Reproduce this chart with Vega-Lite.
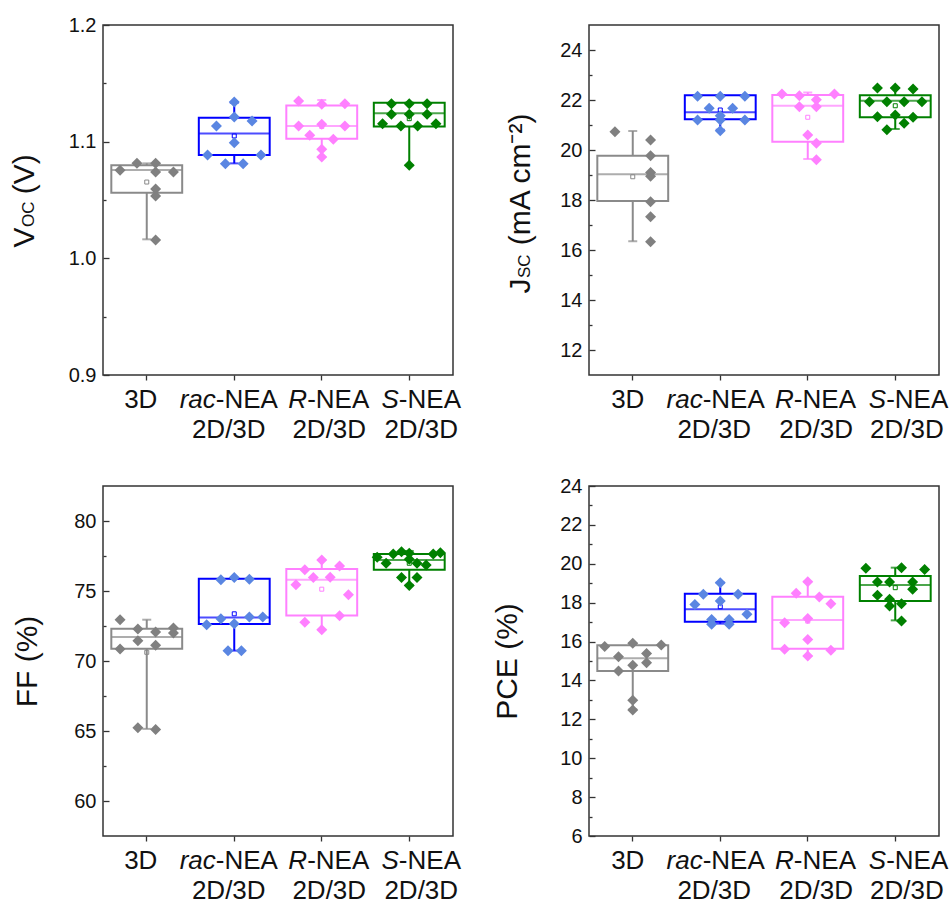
{
  "$schema": "https://vega.github.io/schema/vega-lite/v6.json",
  "background": "white",
  "padding": {"left": 8, "top": 14, "right": 0, "bottom": 5},
  "config": {
    "font": "Liberation Sans",
    "view": {"stroke": "#333333", "strokeWidth": 1.5},
    "axis": {"tickWidth": 1.3, "tickColor": "#333333", "labelColor": "#111111", "titleColor": "#111111", "grid": false, "domain": false, "titleFontWeight": "normal"}
  },
  "datasets": {
    "boxes": [
      {"panel": "voc", "group": "3D", "lower": 1.0163, "q1": 1.0563, "median": 1.0757, "q3": 1.0797, "upper": 1.0814, "mean": 1.0654},
      {"panel": "voc", "group": "rac-NEA 2D/3D", "lower": 1.0814, "q1": 1.0886, "median": 1.1071, "q3": 1.1206, "upper": 1.1334, "mean": 1.1049},
      {"panel": "voc", "group": "R-NEA 2D/3D", "lower": 1.0869, "q1": 1.1026, "median": 1.1134, "q3": 1.1311, "upper": 1.1357, "mean": 1.113},
      {"panel": "voc", "group": "S-NEA 2D/3D", "lower": 1.0797, "q1": 1.1129, "median": 1.1243, "q3": 1.1334, "upper": 1.1334, "mean": 1.1197},
      {"panel": "jsc", "group": "3D", "lower": 16.35, "q1": 17.96, "median": 19.03, "q3": 19.77, "upper": 20.76, "mean": 18.93},
      {"panel": "jsc", "group": "rac-NEA 2D/3D", "lower": 20.81, "q1": 21.23, "median": 21.51, "q3": 22.19, "upper": 22.19, "mean": 21.6},
      {"panel": "jsc", "group": "R-NEA 2D/3D", "lower": 19.64, "q1": 20.33, "median": 21.77, "q3": 22.2, "upper": 22.3, "mean": 21.31},
      {"panel": "jsc", "group": "S-NEA 2D/3D", "lower": 20.84, "q1": 21.31, "median": 21.97, "q3": 22.19, "upper": 22.48, "mean": 21.77},
      {"panel": "ff", "group": "3D", "lower": 65.15, "q1": 70.88, "median": 71.71, "q3": 72.3, "upper": 72.95, "mean": 70.62},
      {"panel": "ff", "group": "rac-NEA 2D/3D", "lower": 70.74, "q1": 72.64, "median": 73.11, "q3": 75.87, "upper": 75.87, "mean": 73.37},
      {"panel": "ff", "group": "R-NEA 2D/3D", "lower": 72.23, "q1": 73.25, "median": 75.8, "q3": 76.58, "upper": 77.22, "mean": 75.13},
      {"panel": "ff", "group": "S-NEA 2D/3D", "lower": 75.44, "q1": 76.51, "median": 77.22, "q3": 77.65, "upper": 77.86, "mean": 76.98},
      {"panel": "pce", "group": "3D", "lower": 12.51, "q1": 14.49, "median": 15.14, "q3": 15.81, "upper": 15.91, "mean": 14.77},
      {"panel": "pce", "group": "rac-NEA 2D/3D", "lower": 16.92, "q1": 17.02, "median": 17.66, "q3": 18.46, "upper": 19.03, "mean": 17.79},
      {"panel": "pce", "group": "R-NEA 2D/3D", "lower": 15.26, "q1": 15.63, "median": 17.11, "q3": 18.31, "upper": 19.08, "mean": 17.05},
      {"panel": "pce", "group": "S-NEA 2D/3D", "lower": 17.09, "q1": 18.09, "median": 18.91, "q3": 19.37, "upper": 19.8, "mean": 18.77}
    ],
    "pts": [
      {"panel": "voc", "group": "3D", "value": 1.0754, "jit": -3},
      {"panel": "voc", "group": "3D", "value": 1.0814, "jit": -1.1},
      {"panel": "voc", "group": "3D", "value": 1.0814, "jit": 1},
      {"panel": "voc", "group": "3D", "value": 1.074, "jit": 1},
      {"panel": "voc", "group": "3D", "value": 1.074, "jit": 3},
      {"panel": "voc", "group": "3D", "value": 1.0594, "jit": 1},
      {"panel": "voc", "group": "3D", "value": 1.0534, "jit": 1},
      {"panel": "voc", "group": "3D", "value": 1.0157, "jit": 1},
      {"panel": "voc", "group": "rac-NEA 2D/3D", "value": 1.134, "jit": 0},
      {"panel": "voc", "group": "rac-NEA 2D/3D", "value": 1.1211, "jit": 0},
      {"panel": "voc", "group": "rac-NEA 2D/3D", "value": 1.1177, "jit": 2},
      {"panel": "voc", "group": "rac-NEA 2D/3D", "value": 1.1134, "jit": -2},
      {"panel": "voc", "group": "rac-NEA 2D/3D", "value": 1.0991, "jit": 0},
      {"panel": "voc", "group": "rac-NEA 2D/3D", "value": 1.0886, "jit": -3},
      {"panel": "voc", "group": "rac-NEA 2D/3D", "value": 1.0886, "jit": 3},
      {"panel": "voc", "group": "rac-NEA 2D/3D", "value": 1.0811, "jit": -1},
      {"panel": "voc", "group": "rac-NEA 2D/3D", "value": 1.0811, "jit": 1},
      {"panel": "voc", "group": "R-NEA 2D/3D", "value": 1.1349, "jit": -2.6},
      {"panel": "voc", "group": "R-NEA 2D/3D", "value": 1.132, "jit": 0},
      {"panel": "voc", "group": "R-NEA 2D/3D", "value": 1.1326, "jit": 2.6},
      {"panel": "voc", "group": "R-NEA 2D/3D", "value": 1.1134, "jit": -2.6},
      {"panel": "voc", "group": "R-NEA 2D/3D", "value": 1.1149, "jit": 0},
      {"panel": "voc", "group": "R-NEA 2D/3D", "value": 1.1134, "jit": 2.6},
      {"panel": "voc", "group": "R-NEA 2D/3D", "value": 1.1054, "jit": -1.35},
      {"panel": "voc", "group": "R-NEA 2D/3D", "value": 1.102, "jit": 1.3},
      {"panel": "voc", "group": "R-NEA 2D/3D", "value": 1.0934, "jit": 0},
      {"panel": "voc", "group": "R-NEA 2D/3D", "value": 1.0869, "jit": 0},
      {"panel": "voc", "group": "S-NEA 2D/3D", "value": 1.1326, "jit": -2},
      {"panel": "voc", "group": "S-NEA 2D/3D", "value": 1.1326, "jit": 0},
      {"panel": "voc", "group": "S-NEA 2D/3D", "value": 1.1326, "jit": 2},
      {"panel": "voc", "group": "S-NEA 2D/3D", "value": 1.1234, "jit": -2},
      {"panel": "voc", "group": "S-NEA 2D/3D", "value": 1.1234, "jit": 0},
      {"panel": "voc", "group": "S-NEA 2D/3D", "value": 1.1234, "jit": 2},
      {"panel": "voc", "group": "S-NEA 2D/3D", "value": 1.1154, "jit": -3},
      {"panel": "voc", "group": "S-NEA 2D/3D", "value": 1.1134, "jit": -0.94},
      {"panel": "voc", "group": "S-NEA 2D/3D", "value": 1.1134, "jit": 0.94},
      {"panel": "voc", "group": "S-NEA 2D/3D", "value": 1.1154, "jit": 3},
      {"panel": "voc", "group": "S-NEA 2D/3D", "value": 1.0797, "jit": 0},
      {"panel": "jsc", "group": "3D", "value": 20.73, "jit": -2},
      {"panel": "jsc", "group": "3D", "value": 20.4, "jit": 2},
      {"panel": "jsc", "group": "3D", "value": 19.77, "jit": 2},
      {"panel": "jsc", "group": "3D", "value": 19.1, "jit": 2},
      {"panel": "jsc", "group": "3D", "value": 18.95, "jit": 2},
      {"panel": "jsc", "group": "3D", "value": 17.93, "jit": 2},
      {"panel": "jsc", "group": "3D", "value": 17.33, "jit": 2},
      {"panel": "jsc", "group": "3D", "value": 16.33, "jit": 2},
      {"panel": "jsc", "group": "rac-NEA 2D/3D", "value": 22.15, "jit": -2.55},
      {"panel": "jsc", "group": "rac-NEA 2D/3D", "value": 22.15, "jit": 0},
      {"panel": "jsc", "group": "rac-NEA 2D/3D", "value": 22.15, "jit": 2.77},
      {"panel": "jsc", "group": "rac-NEA 2D/3D", "value": 21.67, "jit": -1.24},
      {"panel": "jsc", "group": "rac-NEA 2D/3D", "value": 21.67, "jit": 1.39},
      {"panel": "jsc", "group": "rac-NEA 2D/3D", "value": 21.37, "jit": 0},
      {"panel": "jsc", "group": "rac-NEA 2D/3D", "value": 21.2, "jit": -2.55},
      {"panel": "jsc", "group": "rac-NEA 2D/3D", "value": 21.2, "jit": 0},
      {"panel": "jsc", "group": "rac-NEA 2D/3D", "value": 21.2, "jit": 2.77},
      {"panel": "jsc", "group": "rac-NEA 2D/3D", "value": 20.77, "jit": 0},
      {"panel": "jsc", "group": "R-NEA 2D/3D", "value": 22.24, "jit": -2.9},
      {"panel": "jsc", "group": "R-NEA 2D/3D", "value": 22.17, "jit": -0.94},
      {"panel": "jsc", "group": "R-NEA 2D/3D", "value": 22.24, "jit": 3},
      {"panel": "jsc", "group": "R-NEA 2D/3D", "value": 22.01, "jit": 0.97},
      {"panel": "jsc", "group": "R-NEA 2D/3D", "value": 21.73, "jit": -0.94},
      {"panel": "jsc", "group": "R-NEA 2D/3D", "value": 21.73, "jit": 0.97},
      {"panel": "jsc", "group": "R-NEA 2D/3D", "value": 20.6, "jit": 0},
      {"panel": "jsc", "group": "R-NEA 2D/3D", "value": 20.27, "jit": 0.97},
      {"panel": "jsc", "group": "R-NEA 2D/3D", "value": 19.61, "jit": 0.97},
      {"panel": "jsc", "group": "S-NEA 2D/3D", "value": 22.48, "jit": -2},
      {"panel": "jsc", "group": "S-NEA 2D/3D", "value": 22.48, "jit": 0},
      {"panel": "jsc", "group": "S-NEA 2D/3D", "value": 22.44, "jit": 2},
      {"panel": "jsc", "group": "S-NEA 2D/3D", "value": 21.93, "jit": -2.9},
      {"panel": "jsc", "group": "S-NEA 2D/3D", "value": 21.93, "jit": -0.94},
      {"panel": "jsc", "group": "S-NEA 2D/3D", "value": 21.93, "jit": 1},
      {"panel": "jsc", "group": "S-NEA 2D/3D", "value": 21.93, "jit": 3},
      {"panel": "jsc", "group": "S-NEA 2D/3D", "value": 21.33, "jit": -2},
      {"panel": "jsc", "group": "S-NEA 2D/3D", "value": 21.4, "jit": 0},
      {"panel": "jsc", "group": "S-NEA 2D/3D", "value": 21.31, "jit": 2},
      {"panel": "jsc", "group": "S-NEA 2D/3D", "value": 21.07, "jit": 1},
      {"panel": "jsc", "group": "S-NEA 2D/3D", "value": 20.81, "jit": -0.94},
      {"panel": "ff", "group": "3D", "value": 72.95, "jit": -3},
      {"panel": "ff", "group": "3D", "value": 72.28, "jit": -1},
      {"panel": "ff", "group": "3D", "value": 72.35, "jit": 3},
      {"panel": "ff", "group": "3D", "value": 72.07, "jit": 1},
      {"panel": "ff", "group": "3D", "value": 72.0, "jit": 3},
      {"panel": "ff", "group": "3D", "value": 71.45, "jit": -1},
      {"panel": "ff", "group": "3D", "value": 71.12, "jit": 1},
      {"panel": "ff", "group": "3D", "value": 70.86, "jit": -3},
      {"panel": "ff", "group": "3D", "value": 65.23, "jit": -1},
      {"panel": "ff", "group": "3D", "value": 65.11, "jit": 1},
      {"panel": "ff", "group": "rac-NEA 2D/3D", "value": 75.8, "jit": -1.5},
      {"panel": "ff", "group": "rac-NEA 2D/3D", "value": 75.96, "jit": 0},
      {"panel": "ff", "group": "rac-NEA 2D/3D", "value": 75.84, "jit": 1.7},
      {"panel": "ff", "group": "rac-NEA 2D/3D", "value": 72.59, "jit": -3.1},
      {"panel": "ff", "group": "rac-NEA 2D/3D", "value": 73.02, "jit": -1.5},
      {"panel": "ff", "group": "rac-NEA 2D/3D", "value": 73.14, "jit": 1.7},
      {"panel": "ff", "group": "rac-NEA 2D/3D", "value": 73.14, "jit": 3.2},
      {"panel": "ff", "group": "rac-NEA 2D/3D", "value": 72.66, "jit": 0},
      {"panel": "ff", "group": "rac-NEA 2D/3D", "value": 70.74, "jit": -0.7},
      {"panel": "ff", "group": "rac-NEA 2D/3D", "value": 70.74, "jit": 0.8},
      {"panel": "ff", "group": "R-NEA 2D/3D", "value": 77.22, "jit": 0},
      {"panel": "ff", "group": "R-NEA 2D/3D", "value": 76.51, "jit": -1.9},
      {"panel": "ff", "group": "R-NEA 2D/3D", "value": 76.79, "jit": 2},
      {"panel": "ff", "group": "R-NEA 2D/3D", "value": 75.96, "jit": -0.95},
      {"panel": "ff", "group": "R-NEA 2D/3D", "value": 75.99, "jit": 0.95},
      {"panel": "ff", "group": "R-NEA 2D/3D", "value": 75.44, "jit": -2.9},
      {"panel": "ff", "group": "R-NEA 2D/3D", "value": 74.73, "jit": 3},
      {"panel": "ff", "group": "R-NEA 2D/3D", "value": 73.23, "jit": 2},
      {"panel": "ff", "group": "R-NEA 2D/3D", "value": 72.76, "jit": -1.9},
      {"panel": "ff", "group": "R-NEA 2D/3D", "value": 72.23, "jit": 0},
      {"panel": "ff", "group": "S-NEA 2D/3D", "value": 77.41, "jit": -3.6},
      {"panel": "ff", "group": "S-NEA 2D/3D", "value": 77.65, "jit": -1.8},
      {"panel": "ff", "group": "S-NEA 2D/3D", "value": 77.81, "jit": -0.87},
      {"panel": "ff", "group": "S-NEA 2D/3D", "value": 77.7, "jit": 0},
      {"panel": "ff", "group": "S-NEA 2D/3D", "value": 77.65, "jit": 2.7},
      {"panel": "ff", "group": "S-NEA 2D/3D", "value": 77.74, "jit": 3.5},
      {"panel": "ff", "group": "S-NEA 2D/3D", "value": 76.98, "jit": -2.6},
      {"panel": "ff", "group": "S-NEA 2D/3D", "value": 77.27, "jit": 0},
      {"panel": "ff", "group": "S-NEA 2D/3D", "value": 76.98, "jit": 0.87},
      {"panel": "ff", "group": "S-NEA 2D/3D", "value": 76.86, "jit": 1.9},
      {"panel": "ff", "group": "S-NEA 2D/3D", "value": 75.96, "jit": -0.87},
      {"panel": "ff", "group": "S-NEA 2D/3D", "value": 75.96, "jit": 0.87},
      {"panel": "ff", "group": "S-NEA 2D/3D", "value": 75.39, "jit": 0},
      {"panel": "pce", "group": "3D", "value": 15.74, "jit": -3.15},
      {"panel": "pce", "group": "3D", "value": 15.91, "jit": 0},
      {"panel": "pce", "group": "3D", "value": 15.82, "jit": 3.2},
      {"panel": "pce", "group": "3D", "value": 15.22, "jit": -1.6},
      {"panel": "pce", "group": "3D", "value": 15.38, "jit": 1.55},
      {"panel": "pce", "group": "3D", "value": 14.91, "jit": 1.55},
      {"panel": "pce", "group": "3D", "value": 14.78, "jit": 0},
      {"panel": "pce", "group": "3D", "value": 14.49, "jit": -1.6},
      {"panel": "pce", "group": "3D", "value": 12.98, "jit": 0},
      {"panel": "pce", "group": "3D", "value": 12.48, "jit": 0},
      {"panel": "pce", "group": "rac-NEA 2D/3D", "value": 19.03, "jit": 0},
      {"panel": "pce", "group": "rac-NEA 2D/3D", "value": 18.43, "jit": -1.9},
      {"panel": "pce", "group": "rac-NEA 2D/3D", "value": 18.43, "jit": 2},
      {"panel": "pce", "group": "rac-NEA 2D/3D", "value": 18.09, "jit": 0},
      {"panel": "pce", "group": "rac-NEA 2D/3D", "value": 17.91, "jit": -2.85},
      {"panel": "pce", "group": "rac-NEA 2D/3D", "value": 17.4, "jit": 3},
      {"panel": "pce", "group": "rac-NEA 2D/3D", "value": 17.14, "jit": -0.97},
      {"panel": "pce", "group": "rac-NEA 2D/3D", "value": 17.14, "jit": 1},
      {"panel": "pce", "group": "rac-NEA 2D/3D", "value": 16.89, "jit": -0.97},
      {"panel": "pce", "group": "rac-NEA 2D/3D", "value": 16.89, "jit": 1},
      {"panel": "pce", "group": "R-NEA 2D/3D", "value": 19.08, "jit": 0},
      {"panel": "pce", "group": "R-NEA 2D/3D", "value": 18.48, "jit": -1.3},
      {"panel": "pce", "group": "R-NEA 2D/3D", "value": 18.29, "jit": 1.3},
      {"panel": "pce", "group": "R-NEA 2D/3D", "value": 17.95, "jit": 2.6},
      {"panel": "pce", "group": "R-NEA 2D/3D", "value": 16.97, "jit": -2.6},
      {"panel": "pce", "group": "R-NEA 2D/3D", "value": 17.18, "jit": 0},
      {"panel": "pce", "group": "R-NEA 2D/3D", "value": 16.11, "jit": 0},
      {"panel": "pce", "group": "R-NEA 2D/3D", "value": 15.6, "jit": -2.6},
      {"panel": "pce", "group": "R-NEA 2D/3D", "value": 15.55, "jit": 2.6},
      {"panel": "pce", "group": "R-NEA 2D/3D", "value": 15.26, "jit": 0},
      {"panel": "pce", "group": "S-NEA 2D/3D", "value": 19.77, "jit": -3.3},
      {"panel": "pce", "group": "S-NEA 2D/3D", "value": 19.8, "jit": 0.7},
      {"panel": "pce", "group": "S-NEA 2D/3D", "value": 19.71, "jit": 3.3},
      {"panel": "pce", "group": "S-NEA 2D/3D", "value": 19.06, "jit": -2},
      {"panel": "pce", "group": "S-NEA 2D/3D", "value": 19.06, "jit": -0.64},
      {"panel": "pce", "group": "S-NEA 2D/3D", "value": 19.06, "jit": 1.95},
      {"panel": "pce", "group": "S-NEA 2D/3D", "value": 18.69, "jit": 1.95},
      {"panel": "pce", "group": "S-NEA 2D/3D", "value": 18.38, "jit": -2},
      {"panel": "pce", "group": "S-NEA 2D/3D", "value": 18.17, "jit": -0.64},
      {"panel": "pce", "group": "S-NEA 2D/3D", "value": 17.83, "jit": -0.64},
      {"panel": "pce", "group": "S-NEA 2D/3D", "value": 17.95, "jit": 0.7},
      {"panel": "pce", "group": "S-NEA 2D/3D", "value": 17.06, "jit": 0.7}
    ]
  },
  "columns": 2,
  "spacing": {"row": 32, "column": 29},
  "concat": [
    {
      "width": 350, "height": 350,
      "layer": [
        {"data": {"name": "boxes"}, "transform": [{"filter": "datum.panel == 'voc'"}], "mark": {"type": "rule", "strokeWidth": 2},
         "encoding": {
           "x": {"field": "group", "type": "nominal", "sort": ["3D", "rac-NEA 2D/3D", "R-NEA 2D/3D", "S-NEA 2D/3D"], "scale": {"type": "band", "paddingInner": 0, "paddingOuter": 0}, "title": null,
             "axis": {"orient": "bottom", "labelExpr": "datum.value == '3D' ? '3D' : '-NEA'", "labelAngle": 0, "labelFontSize": 26, "labelBaseline": "top", "tickSize": 5, "labelPadding": 6,
               "labelAlign": {"condition": {"test": "datum.value == '3D'", "value": "center"}, "value": "left"},
               "labelOffset": {"condition": [{"test": "datum.value == '3D'", "value": -6}, {"test": "datum.value == 'rac-NEA 2D/3D'", "value": -18.5}, {"test": "datum.value == 'R-NEA 2D/3D'", "value": -14.6}], "value": -10.4}}},
           "y": {"field": "lower", "type": "quantitative", "scale": {"domain": [0.9, 1.2], "nice": false, "zero": false},
             "axis": {"values": [0.9, 1.0, 1.1, 1.2], "format": ".1f", "tickSize": -6, "labelPadding": 13, "labelFontSize": 20, "title": "V\u00a0\u00a0\u00a0\u00a0(V)", "titleFontSize": 30, "titleAlign": "left", "titleBaseline": "alphabetic", "titleAngle": 270, "titleX": -70, "titleY": 222}},
           "y2": {"field": "upper"},
           "color": {"field": "group", "type": "nominal", "scale": {"domain": ["3D", "rac-NEA 2D/3D", "R-NEA 2D/3D", "S-NEA 2D/3D"], "range": ["#8a8a8a", "#0000ff", "#ff80ff", "#008000"]}, "legend": null}}},
        {"data": {"name": "boxes"}, "transform": [{"filter": "datum.panel == 'voc'"}], "mark": {"type": "bar", "fill": "white", "strokeWidth": 2, "width": {"band": 0.81}},
         "encoding": {
           "x": {"field": "group", "type": "nominal", "sort": ["3D", "rac-NEA 2D/3D", "R-NEA 2D/3D", "S-NEA 2D/3D"], "title": null,
             "axis": {"orient": "bottom", "labelExpr": "datum.value == 'rac-NEA 2D/3D' ? 'rac' : datum.value == 'R-NEA 2D/3D' ? 'R' : datum.value == 'S-NEA 2D/3D' ? 'S' : ''", "labelAngle": 0, "labelFontSize": 26, "labelFontStyle": "italic", "labelBaseline": "top", "labelAlign": "left", "tickSize": 5, "tickOpacity": 0, "labelPadding": 6,
               "labelOffset": {"condition": [{"test": "datum.value == 'rac-NEA 2D/3D'", "value": -54.6}, {"test": "datum.value == 'R-NEA 2D/3D'", "value": -33.4}], "value": -27.7}}},
           "y": {"field": "q1", "type": "quantitative", "axis": null}, "y2": {"field": "q3"},
           "stroke": {"field": "group", "type": "nominal", "scale": {"domain": ["3D", "rac-NEA 2D/3D", "R-NEA 2D/3D", "S-NEA 2D/3D"], "range": ["#8a8a8a", "#0000ff", "#ff80ff", "#008000"]}, "legend": null}}},
        {"data": {"name": "boxes"}, "transform": [{"filter": "datum.panel == 'voc'"}], "mark": {"type": "tick", "thickness": 2, "size": 71},
         "encoding": {
           "x": {"field": "group", "type": "nominal", "sort": ["3D", "rac-NEA 2D/3D", "R-NEA 2D/3D", "S-NEA 2D/3D"], "title": null,
             "axis": {"orient": "bottom", "labelExpr": "datum.value == '3D' ? '' : '2D/3D'", "labelAngle": 0, "labelFontSize": 26, "labelBaseline": "top", "tickSize": 5, "tickOpacity": 0, "labelPadding": 36,
               "labelOffset": {"condition": [{"test": "datum.value == 'rac-NEA 2D/3D'", "value": -5.5}, {"test": "datum.value == 'R-NEA 2D/3D'", "value": 7.5}], "value": 12}}},
           "y": {"field": "median", "type": "quantitative", "axis": null}, "color": {"field": "group", "type": "nominal", "legend": null}}},
        {"data": {"name": "boxes"}, "transform": [{"filter": "datum.panel == 'voc'"}], "mark": {"type": "tick", "thickness": 2, "size": 9},
         "encoding": {"x": {"field": "group", "type": "nominal", "sort": ["3D", "rac-NEA 2D/3D", "R-NEA 2D/3D", "S-NEA 2D/3D"], "axis": null}, "y": {"field": "lower", "type": "quantitative", "axis": null}, "color": {"field": "group", "type": "nominal", "legend": null}}},
        {"data": {"name": "boxes"}, "transform": [{"filter": "datum.panel == 'voc'"}], "mark": {"type": "tick", "thickness": 2, "size": 9},
         "encoding": {"x": {"field": "group", "type": "nominal", "sort": ["3D", "rac-NEA 2D/3D", "R-NEA 2D/3D", "S-NEA 2D/3D"], "axis": null}, "y": {"field": "upper", "type": "quantitative", "axis": null}, "color": {"field": "group", "type": "nominal", "legend": null}}},
        {"data": {"name": "boxes"}, "transform": [{"filter": "datum.panel == 'voc'"}], "mark": {"type": "point", "shape": "square", "filled": false, "size": 16, "strokeWidth": 1, "opacity": 1},
         "encoding": {"x": {"field": "group", "type": "nominal", "sort": ["3D", "rac-NEA 2D/3D", "R-NEA 2D/3D", "S-NEA 2D/3D"], "axis": null}, "y": {"field": "mean", "type": "quantitative", "axis": null}, "color": {"field": "group", "type": "nominal", "legend": null}}},
        {"data": {"name": "pts"}, "transform": [{"filter": "datum.panel == 'voc'"}], "mark": {"type": "point", "shape": "diamond", "filled": true, "size": 121, "opacity": 1},
         "encoding": {"x": {"field": "group", "type": "nominal", "sort": ["3D", "rac-NEA 2D/3D", "R-NEA 2D/3D", "S-NEA 2D/3D"], "axis": null},
           "y": {"field": "value", "type": "quantitative", "axis": {"values": [0.95, 1.05, 1.15], "labels": false, "tickSize": -3, "orient": "left", "title": "OC", "titleFontSize": 17, "titleAlign": "left", "titleBaseline": "alphabetic", "titleAngle": 270, "titleX": -70, "titleY": 201.5}},
           "xOffset": {"field": "jit", "type": "quantitative", "scale": {"domain": [-3.5, 3.5], "range": [12.6, 74.9]}},
           "fill": {"field": "group", "type": "nominal", "scale": {"domain": ["3D", "rac-NEA 2D/3D", "R-NEA 2D/3D", "S-NEA 2D/3D"], "range": ["#808080", "#5a86e2", "#ff80ff", "#008000"]}, "legend": null}}}
      ],
      "resolve": {"axis": {"x": "independent", "y": "independent"}, "scale": {"xOffset": "independent"}}
    },
    {
      "width": 350, "height": 350,
      "layer": [
        {"data": {"name": "boxes"}, "transform": [{"filter": "datum.panel == 'jsc'"}], "mark": {"type": "rule", "strokeWidth": 2},
         "encoding": {
           "x": {"field": "group", "type": "nominal", "sort": ["3D", "rac-NEA 2D/3D", "R-NEA 2D/3D", "S-NEA 2D/3D"], "scale": {"type": "band", "paddingInner": 0, "paddingOuter": 0}, "title": null,
             "axis": {"orient": "bottom", "labelExpr": "datum.value == '3D' ? '3D' : '-NEA'", "labelAngle": 0, "labelFontSize": 26, "labelBaseline": "top", "tickSize": 5, "labelPadding": 6,
               "labelAlign": {"condition": {"test": "datum.value == '3D'", "value": "center"}, "value": "left"},
               "labelOffset": {"condition": [{"test": "datum.value == '3D'", "value": -5}, {"test": "datum.value == 'rac-NEA 2D/3D'", "value": -17.6}, {"test": "datum.value == 'R-NEA 2D/3D'", "value": -13.9}], "value": -9.1}}},
           "y": {"field": "lower", "type": "quantitative", "scale": {"domain": [11, 25], "nice": false, "zero": false},
             "axis": {"values": [12, 14, 16, 18, 20, 22, 24], "tickSize": -6, "labelPadding": 13, "labelFontSize": 20, "title": "J\u00a0\u00a0\u00a0\u00a0(mA cm⁻²)", "titleFontSize": 30, "titleAlign": "left", "titleBaseline": "alphabetic", "titleAngle": 270, "titleX": -60, "titleY": 268}},
           "y2": {"field": "upper"},
           "color": {"field": "group", "type": "nominal", "scale": {"domain": ["3D", "rac-NEA 2D/3D", "R-NEA 2D/3D", "S-NEA 2D/3D"], "range": ["#8a8a8a", "#0000ff", "#ff80ff", "#008000"]}, "legend": null}}},
        {"data": {"name": "boxes"}, "transform": [{"filter": "datum.panel == 'jsc'"}], "mark": {"type": "bar", "fill": "white", "strokeWidth": 2, "width": {"band": 0.81}},
         "encoding": {
           "x": {"field": "group", "type": "nominal", "sort": ["3D", "rac-NEA 2D/3D", "R-NEA 2D/3D", "S-NEA 2D/3D"], "title": null,
             "axis": {"orient": "bottom", "labelExpr": "datum.value == 'rac-NEA 2D/3D' ? 'rac' : datum.value == 'R-NEA 2D/3D' ? 'R' : datum.value == 'S-NEA 2D/3D' ? 'S' : ''", "labelAngle": 0, "labelFontSize": 26, "labelFontStyle": "italic", "labelBaseline": "top", "labelAlign": "left", "tickSize": 5, "tickOpacity": 0, "labelPadding": 6,
               "labelOffset": {"condition": [{"test": "datum.value == 'rac-NEA 2D/3D'", "value": -53.7}, {"test": "datum.value == 'R-NEA 2D/3D'", "value": -32.7}], "value": -26.4}}},
           "y": {"field": "q1", "type": "quantitative", "axis": null}, "y2": {"field": "q3"},
           "stroke": {"field": "group", "type": "nominal", "scale": {"domain": ["3D", "rac-NEA 2D/3D", "R-NEA 2D/3D", "S-NEA 2D/3D"], "range": ["#8a8a8a", "#0000ff", "#ff80ff", "#008000"]}, "legend": null}}},
        {"data": {"name": "boxes"}, "transform": [{"filter": "datum.panel == 'jsc'"}], "mark": {"type": "tick", "thickness": 2, "size": 71},
         "encoding": {
           "x": {"field": "group", "type": "nominal", "sort": ["3D", "rac-NEA 2D/3D", "R-NEA 2D/3D", "S-NEA 2D/3D"], "title": null,
             "axis": {"orient": "bottom", "labelExpr": "datum.value == '3D' ? '' : '2D/3D'", "labelAngle": 0, "labelFontSize": 26, "labelBaseline": "top", "tickSize": 5, "tickOpacity": 0, "labelPadding": 36,
               "labelOffset": {"condition": [{"test": "datum.value == 'rac-NEA 2D/3D'", "value": -6}, {"test": "datum.value == 'R-NEA 2D/3D'", "value": 8.4}], "value": 11.7}}},
           "y": {"field": "median", "type": "quantitative", "axis": null}, "color": {"field": "group", "type": "nominal", "legend": null}}},
        {"data": {"name": "boxes"}, "transform": [{"filter": "datum.panel == 'jsc'"}], "mark": {"type": "tick", "thickness": 2, "size": 9},
         "encoding": {"x": {"field": "group", "type": "nominal", "sort": ["3D", "rac-NEA 2D/3D", "R-NEA 2D/3D", "S-NEA 2D/3D"], "axis": null}, "y": {"field": "lower", "type": "quantitative", "axis": null}, "color": {"field": "group", "type": "nominal", "legend": null}}},
        {"data": {"name": "boxes"}, "transform": [{"filter": "datum.panel == 'jsc'"}], "mark": {"type": "tick", "thickness": 2, "size": 9},
         "encoding": {"x": {"field": "group", "type": "nominal", "sort": ["3D", "rac-NEA 2D/3D", "R-NEA 2D/3D", "S-NEA 2D/3D"], "axis": null}, "y": {"field": "upper", "type": "quantitative", "axis": null}, "color": {"field": "group", "type": "nominal", "legend": null}}},
        {"data": {"name": "boxes"}, "transform": [{"filter": "datum.panel == 'jsc'"}], "mark": {"type": "point", "shape": "square", "filled": false, "size": 16, "strokeWidth": 1, "opacity": 1},
         "encoding": {"x": {"field": "group", "type": "nominal", "sort": ["3D", "rac-NEA 2D/3D", "R-NEA 2D/3D", "S-NEA 2D/3D"], "axis": null}, "y": {"field": "mean", "type": "quantitative", "axis": null}, "color": {"field": "group", "type": "nominal", "legend": null}}},
        {"data": {"name": "pts"}, "transform": [{"filter": "datum.panel == 'jsc'"}], "mark": {"type": "point", "shape": "diamond", "filled": true, "size": 121, "opacity": 1},
         "encoding": {"x": {"field": "group", "type": "nominal", "sort": ["3D", "rac-NEA 2D/3D", "R-NEA 2D/3D", "S-NEA 2D/3D"], "axis": null},
           "y": {"field": "value", "type": "quantitative", "axis": {"values": [13, 15, 17, 19, 21, 23], "labels": false, "tickSize": -3, "orient": "left", "title": "SC", "titleFontSize": 17, "titleAlign": "left", "titleBaseline": "alphabetic", "titleAngle": 270, "titleX": -60, "titleY": 252.5}},
           "xOffset": {"field": "jit", "type": "quantitative", "scale": {"domain": [-3.5, 3.5], "range": [12.6, 74.9]}},
           "fill": {"field": "group", "type": "nominal", "scale": {"domain": ["3D", "rac-NEA 2D/3D", "R-NEA 2D/3D", "S-NEA 2D/3D"], "range": ["#808080", "#5a86e2", "#ff80ff", "#008000"]}, "legend": null}}}
      ],
      "resolve": {"axis": {"x": "independent", "y": "independent"}, "scale": {"xOffset": "independent"}}
    },
    {
      "width": 350, "height": 350,
      "layer": [
        {"data": {"name": "boxes"}, "transform": [{"filter": "datum.panel == 'ff'"}], "mark": {"type": "rule", "strokeWidth": 2},
         "encoding": {
           "x": {"field": "group", "type": "nominal", "sort": ["3D", "rac-NEA 2D/3D", "R-NEA 2D/3D", "S-NEA 2D/3D"], "scale": {"type": "band", "paddingInner": 0, "paddingOuter": 0}, "title": null,
             "axis": {"orient": "bottom", "labelExpr": "datum.value == '3D' ? '3D' : '-NEA'", "labelAngle": 0, "labelFontSize": 26, "labelBaseline": "top", "tickSize": 5, "labelPadding": 6,
               "labelAlign": {"condition": {"test": "datum.value == '3D'", "value": "center"}, "value": "left"},
               "labelOffset": {"condition": [{"test": "datum.value == '3D'", "value": -6}, {"test": "datum.value == 'rac-NEA 2D/3D'", "value": -18.5}, {"test": "datum.value == 'R-NEA 2D/3D'", "value": -14.6}], "value": -10.4}}},
           "y": {"field": "lower", "type": "quantitative", "scale": {"domain": [57.5, 82.5], "nice": false, "zero": false},
             "axis": {"values": [60, 65, 70, 75, 80], "tickSize": -6, "labelPadding": 13, "labelFontSize": 20, "title": "FF (%)", "titleFontSize": 30, "titleBaseline": "alphabetic", "titleAngle": 270, "titleX": -67}},
           "y2": {"field": "upper"},
           "color": {"field": "group", "type": "nominal", "scale": {"domain": ["3D", "rac-NEA 2D/3D", "R-NEA 2D/3D", "S-NEA 2D/3D"], "range": ["#8a8a8a", "#0000ff", "#ff80ff", "#008000"]}, "legend": null}}},
        {"data": {"name": "boxes"}, "transform": [{"filter": "datum.panel == 'ff'"}], "mark": {"type": "bar", "fill": "white", "strokeWidth": 2, "width": {"band": 0.81}},
         "encoding": {
           "x": {"field": "group", "type": "nominal", "sort": ["3D", "rac-NEA 2D/3D", "R-NEA 2D/3D", "S-NEA 2D/3D"], "title": null,
             "axis": {"orient": "bottom", "labelExpr": "datum.value == 'rac-NEA 2D/3D' ? 'rac' : datum.value == 'R-NEA 2D/3D' ? 'R' : datum.value == 'S-NEA 2D/3D' ? 'S' : ''", "labelAngle": 0, "labelFontSize": 26, "labelFontStyle": "italic", "labelBaseline": "top", "labelAlign": "left", "tickSize": 5, "tickOpacity": 0, "labelPadding": 6,
               "labelOffset": {"condition": [{"test": "datum.value == 'rac-NEA 2D/3D'", "value": -54.6}, {"test": "datum.value == 'R-NEA 2D/3D'", "value": -33.4}], "value": -27.7}}},
           "y": {"field": "q1", "type": "quantitative", "axis": null}, "y2": {"field": "q3"},
           "stroke": {"field": "group", "type": "nominal", "scale": {"domain": ["3D", "rac-NEA 2D/3D", "R-NEA 2D/3D", "S-NEA 2D/3D"], "range": ["#8a8a8a", "#0000ff", "#ff80ff", "#008000"]}, "legend": null}}},
        {"data": {"name": "boxes"}, "transform": [{"filter": "datum.panel == 'ff'"}], "mark": {"type": "tick", "thickness": 2, "size": 71},
         "encoding": {
           "x": {"field": "group", "type": "nominal", "sort": ["3D", "rac-NEA 2D/3D", "R-NEA 2D/3D", "S-NEA 2D/3D"], "title": null,
             "axis": {"orient": "bottom", "labelExpr": "datum.value == '3D' ? '' : '2D/3D'", "labelAngle": 0, "labelFontSize": 26, "labelBaseline": "top", "tickSize": 5, "tickOpacity": 0, "labelPadding": 36,
               "labelOffset": {"condition": [{"test": "datum.value == 'rac-NEA 2D/3D'", "value": -5.5}, {"test": "datum.value == 'R-NEA 2D/3D'", "value": 7.5}], "value": 12}}},
           "y": {"field": "median", "type": "quantitative", "axis": null}, "color": {"field": "group", "type": "nominal", "legend": null}}},
        {"data": {"name": "boxes"}, "transform": [{"filter": "datum.panel == 'ff'"}], "mark": {"type": "tick", "thickness": 2, "size": 9},
         "encoding": {"x": {"field": "group", "type": "nominal", "sort": ["3D", "rac-NEA 2D/3D", "R-NEA 2D/3D", "S-NEA 2D/3D"], "axis": null}, "y": {"field": "lower", "type": "quantitative", "axis": null}, "color": {"field": "group", "type": "nominal", "legend": null}}},
        {"data": {"name": "boxes"}, "transform": [{"filter": "datum.panel == 'ff'"}], "mark": {"type": "tick", "thickness": 2, "size": 9},
         "encoding": {"x": {"field": "group", "type": "nominal", "sort": ["3D", "rac-NEA 2D/3D", "R-NEA 2D/3D", "S-NEA 2D/3D"], "axis": null}, "y": {"field": "upper", "type": "quantitative", "axis": null}, "color": {"field": "group", "type": "nominal", "legend": null}}},
        {"data": {"name": "boxes"}, "transform": [{"filter": "datum.panel == 'ff'"}], "mark": {"type": "point", "shape": "square", "filled": false, "size": 16, "strokeWidth": 1, "opacity": 1},
         "encoding": {"x": {"field": "group", "type": "nominal", "sort": ["3D", "rac-NEA 2D/3D", "R-NEA 2D/3D", "S-NEA 2D/3D"], "axis": null}, "y": {"field": "mean", "type": "quantitative", "axis": null}, "color": {"field": "group", "type": "nominal", "legend": null}}},
        {"data": {"name": "pts"}, "transform": [{"filter": "datum.panel == 'ff'"}], "mark": {"type": "point", "shape": "diamond", "filled": true, "size": 121, "opacity": 1},
         "encoding": {"x": {"field": "group", "type": "nominal", "sort": ["3D", "rac-NEA 2D/3D", "R-NEA 2D/3D", "S-NEA 2D/3D"], "axis": null},
           "y": {"field": "value", "type": "quantitative", "axis": {"values": [62.5, 67.5, 72.5, 77.5], "labels": false, "tickSize": -3, "orient": "left", "title": null}},
           "xOffset": {"field": "jit", "type": "quantitative", "scale": {"domain": [-3.5, 3.5], "range": [12.6, 74.9]}},
           "fill": {"field": "group", "type": "nominal", "scale": {"domain": ["3D", "rac-NEA 2D/3D", "R-NEA 2D/3D", "S-NEA 2D/3D"], "range": ["#808080", "#5a86e2", "#ff80ff", "#008000"]}, "legend": null}}}
      ],
      "resolve": {"axis": {"x": "independent", "y": "independent"}, "scale": {"xOffset": "independent"}}
    },
    {
      "width": 350, "height": 350,
      "layer": [
        {"data": {"name": "boxes"}, "transform": [{"filter": "datum.panel == 'pce'"}], "mark": {"type": "rule", "strokeWidth": 2},
         "encoding": {
           "x": {"field": "group", "type": "nominal", "sort": ["3D", "rac-NEA 2D/3D", "R-NEA 2D/3D", "S-NEA 2D/3D"], "scale": {"type": "band", "paddingInner": 0, "paddingOuter": 0}, "title": null,
             "axis": {"orient": "bottom", "labelExpr": "datum.value == '3D' ? '3D' : '-NEA'", "labelAngle": 0, "labelFontSize": 26, "labelBaseline": "top", "tickSize": 5, "labelPadding": 6,
               "labelAlign": {"condition": {"test": "datum.value == '3D'", "value": "center"}, "value": "left"},
               "labelOffset": {"condition": [{"test": "datum.value == '3D'", "value": -5}, {"test": "datum.value == 'rac-NEA 2D/3D'", "value": -17.6}, {"test": "datum.value == 'R-NEA 2D/3D'", "value": -13.9}], "value": -9.1}}},
           "y": {"field": "lower", "type": "quantitative", "scale": {"domain": [6, 24], "nice": false, "zero": false},
             "axis": {"values": [6, 8, 10, 12, 14, 16, 18, 20, 22, 24], "tickSize": -6, "labelPadding": 13, "labelFontSize": 20, "title": "PCE (%)", "titleFontSize": 30, "titleBaseline": "alphabetic", "titleAngle": 270, "titleX": -73}},
           "y2": {"field": "upper"},
           "color": {"field": "group", "type": "nominal", "scale": {"domain": ["3D", "rac-NEA 2D/3D", "R-NEA 2D/3D", "S-NEA 2D/3D"], "range": ["#8a8a8a", "#0000ff", "#ff80ff", "#008000"]}, "legend": null}}},
        {"data": {"name": "boxes"}, "transform": [{"filter": "datum.panel == 'pce'"}], "mark": {"type": "bar", "fill": "white", "strokeWidth": 2, "width": {"band": 0.81}},
         "encoding": {
           "x": {"field": "group", "type": "nominal", "sort": ["3D", "rac-NEA 2D/3D", "R-NEA 2D/3D", "S-NEA 2D/3D"], "title": null,
             "axis": {"orient": "bottom", "labelExpr": "datum.value == 'rac-NEA 2D/3D' ? 'rac' : datum.value == 'R-NEA 2D/3D' ? 'R' : datum.value == 'S-NEA 2D/3D' ? 'S' : ''", "labelAngle": 0, "labelFontSize": 26, "labelFontStyle": "italic", "labelBaseline": "top", "labelAlign": "left", "tickSize": 5, "tickOpacity": 0, "labelPadding": 6,
               "labelOffset": {"condition": [{"test": "datum.value == 'rac-NEA 2D/3D'", "value": -53.7}, {"test": "datum.value == 'R-NEA 2D/3D'", "value": -32.7}], "value": -26.4}}},
           "y": {"field": "q1", "type": "quantitative", "axis": null}, "y2": {"field": "q3"},
           "stroke": {"field": "group", "type": "nominal", "scale": {"domain": ["3D", "rac-NEA 2D/3D", "R-NEA 2D/3D", "S-NEA 2D/3D"], "range": ["#8a8a8a", "#0000ff", "#ff80ff", "#008000"]}, "legend": null}}},
        {"data": {"name": "boxes"}, "transform": [{"filter": "datum.panel == 'pce'"}], "mark": {"type": "tick", "thickness": 2, "size": 71},
         "encoding": {
           "x": {"field": "group", "type": "nominal", "sort": ["3D", "rac-NEA 2D/3D", "R-NEA 2D/3D", "S-NEA 2D/3D"], "title": null,
             "axis": {"orient": "bottom", "labelExpr": "datum.value == '3D' ? '' : '2D/3D'", "labelAngle": 0, "labelFontSize": 26, "labelBaseline": "top", "tickSize": 5, "tickOpacity": 0, "labelPadding": 36,
               "labelOffset": {"condition": [{"test": "datum.value == 'rac-NEA 2D/3D'", "value": -6}, {"test": "datum.value == 'R-NEA 2D/3D'", "value": 8.4}], "value": 11.7}}},
           "y": {"field": "median", "type": "quantitative", "axis": null}, "color": {"field": "group", "type": "nominal", "legend": null}}},
        {"data": {"name": "boxes"}, "transform": [{"filter": "datum.panel == 'pce'"}], "mark": {"type": "tick", "thickness": 2, "size": 9},
         "encoding": {"x": {"field": "group", "type": "nominal", "sort": ["3D", "rac-NEA 2D/3D", "R-NEA 2D/3D", "S-NEA 2D/3D"], "axis": null}, "y": {"field": "lower", "type": "quantitative", "axis": null}, "color": {"field": "group", "type": "nominal", "legend": null}}},
        {"data": {"name": "boxes"}, "transform": [{"filter": "datum.panel == 'pce'"}], "mark": {"type": "tick", "thickness": 2, "size": 9},
         "encoding": {"x": {"field": "group", "type": "nominal", "sort": ["3D", "rac-NEA 2D/3D", "R-NEA 2D/3D", "S-NEA 2D/3D"], "axis": null}, "y": {"field": "upper", "type": "quantitative", "axis": null}, "color": {"field": "group", "type": "nominal", "legend": null}}},
        {"data": {"name": "boxes"}, "transform": [{"filter": "datum.panel == 'pce'"}], "mark": {"type": "point", "shape": "square", "filled": false, "size": 16, "strokeWidth": 1, "opacity": 1},
         "encoding": {"x": {"field": "group", "type": "nominal", "sort": ["3D", "rac-NEA 2D/3D", "R-NEA 2D/3D", "S-NEA 2D/3D"], "axis": null}, "y": {"field": "mean", "type": "quantitative", "axis": null}, "color": {"field": "group", "type": "nominal", "legend": null}}},
        {"data": {"name": "pts"}, "transform": [{"filter": "datum.panel == 'pce'"}], "mark": {"type": "point", "shape": "diamond", "filled": true, "size": 121, "opacity": 1},
         "encoding": {"x": {"field": "group", "type": "nominal", "sort": ["3D", "rac-NEA 2D/3D", "R-NEA 2D/3D", "S-NEA 2D/3D"], "axis": null},
           "y": {"field": "value", "type": "quantitative", "axis": {"values": [7, 9, 11, 13, 15, 17, 19, 21, 23], "labels": false, "tickSize": -3, "orient": "left", "title": null}},
           "xOffset": {"field": "jit", "type": "quantitative", "scale": {"domain": [-3.5, 3.5], "range": [12.6, 74.9]}},
           "fill": {"field": "group", "type": "nominal", "scale": {"domain": ["3D", "rac-NEA 2D/3D", "R-NEA 2D/3D", "S-NEA 2D/3D"], "range": ["#808080", "#5a86e2", "#ff80ff", "#008000"]}, "legend": null}}}
      ],
      "resolve": {"axis": {"x": "independent", "y": "independent"}, "scale": {"xOffset": "independent"}}
    }
  ]
}
